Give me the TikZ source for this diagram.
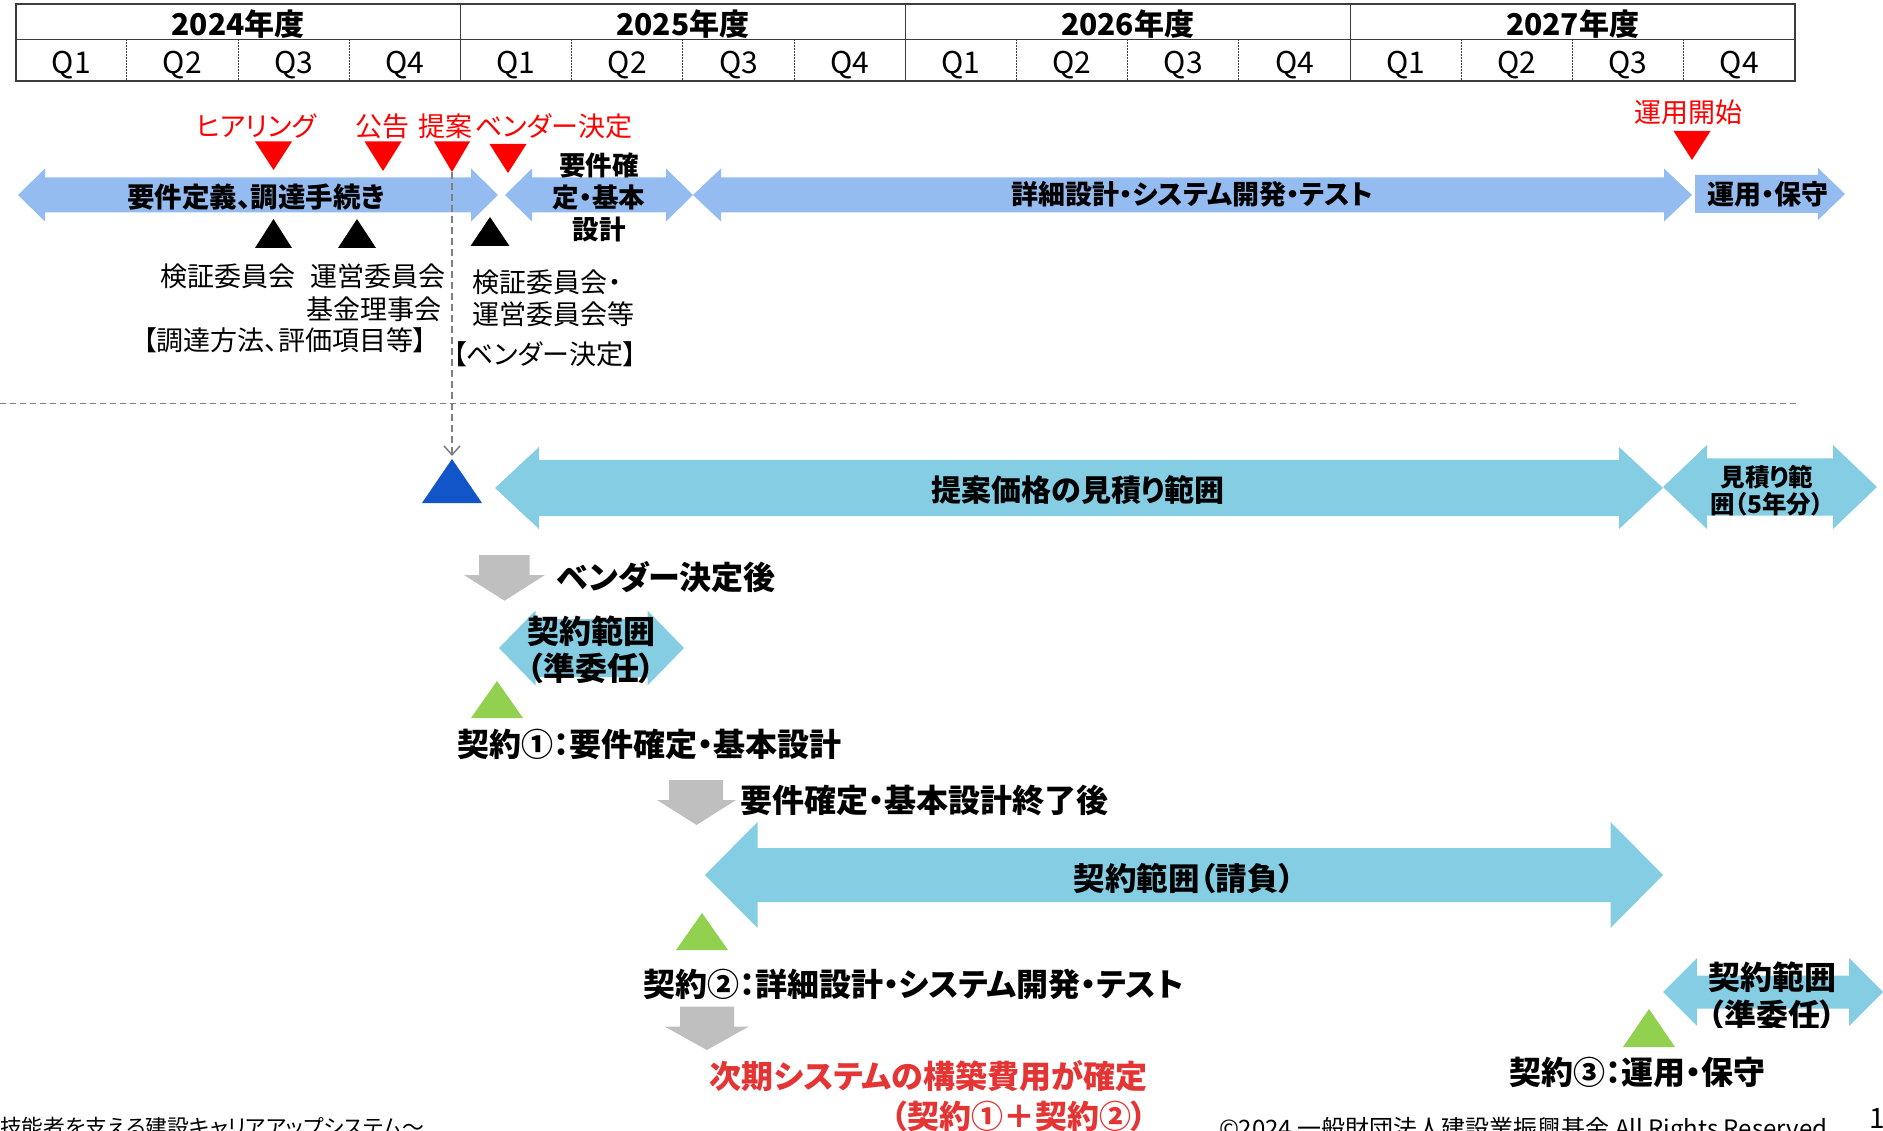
\documentclass[tikz,border=0pt]{standalone}
\usepackage{fontspec}
\setmainfont{Noto Sans CJK JP}[RawFeature=+palt]
\usetikzlibrary{arrows.meta}
\definecolor{rowblue}{RGB}{149,188,240}
\definecolor{skyarr}{RGB}{132,205,227}
\definecolor{grayarr}{RGB}{191,191,191}
\definecolor{greentri}{RGB}{146,208,80}
\definecolor{bluetri}{RGB}{17,85,200}
\definecolor{redmark}{RGB}{255,0,0}
\definecolor{redtext}{RGB}{229,52,52}
\definecolor{tabgray}{RGB}{60,60,60}
\definecolor{dashgray}{RGB}{128,128,128}
\newcommand\mkdarrow[7]{\fill[#1] (#2,#4) -- ({#2+#7},{#4-#6}) -- ({#2+#7},{#4-#5}) -- ({#3-#7},{#4-#5}) -- ({#3-#7},{#4-#6}) -- (#3,#4) -- ({#3-#7},{#4+#6}) -- ({#3-#7},{#4+#5}) -- ({#2+#7},{#4+#5}) -- ({#2+#7},{#4+#6}) -- cycle;}
\newcommand\mkdown[8]{\fill[grayarr] (#1,#3) -- (#2,#3) -- (#2,#6) -- (#5,#6) -- (#7,#8) -- (#4,#6) -- (#1,#6) -- cycle;}
\newcommand\mktri[5]{\fill[#1] ({#2-#4/2},#3) -- ({#2+#4/2},#3) -- (#2,#5) -- cycle;}
\begin{document}
\begin{tikzpicture}[x=1pt,y=-1pt,
  txt/.style={inner sep=0pt,outer sep=0pt},
  redlbl/.style={txt,text=redmark,font=\fontsize{27}{32}\selectfont},
  blklbl/.style={txt,font=\fontsize{27}{32}\selectfont},
  bld/.style={txt,font=\fontsize{#1}{#1}\bfseries\selectfont},
  tabline/.style={draw=tabgray,line width=2pt},
  yrline/.style={draw=tabgray,line width=1.5pt},
  qline/.style={draw=tabgray,line width=0.8pt,dash pattern=on 1.5pt off 1.5pt},
  dashline/.style={draw=dashgray,line width=2pt,dash pattern=on 7pt off 4pt},
  hdash/.style={draw=dashgray,line width=1.5pt,dash pattern=on 6pt off 4pt}]
\useasboundingbox (0,0) rectangle (1883,1131);
\fill[white] (0,0) rectangle (1883,1131);

% ---------- table ----------
\draw[tabline] (15.6,4) rectangle (1795,81);
\draw[yrline] (15.6,39.3) -- (1795,39.3);
\foreach \x in {460.4,905.3,1350.7} \draw[yrline] (\x,4) -- (\x,81);
\foreach \k in {1,2,3,5,6,7,9,10,11,13,14,15} \draw[qline] ({15.6+111.2*\k},39.3) -- ({15.6+111.2*\k},81);
\foreach \yr [count=\i from 0] in {2024,2025,2026,2027}{
  \node[bld=30] (yr\yr) at ({238.0+444.85*\i},24) {\yr 年度};
  \foreach \q in {1,2,3,4}
    \node[txt,anchor=base,font=\fontsize{30}{30}\selectfont] (q\yr\q) at ({15.6+444.85*\i+111.2*(\q-0.5)},73.5) {Q\q};
}

% ---------- row 1 arrows ----------
\mkdarrow{rowblue}{18}{498}{195}{17.5}{26.5}{27}
\mkdarrow{rowblue}{505}{693}{195}{17.5}{26.5}{27}
\mkdarrow{rowblue}{693}{1692}{195}{17.5}{26.5}{28}
\fill[rowblue] (1695,175) -- (1818,175) -- (1818,168) -- (1845,194) -- (1818,220) -- (1818,213) -- (1695,213) -- cycle;

\node[bld=27.5] (reqproc) at (256,197) {要件定義、調達手続き};
\node[bld=26,align=center,font=\fontsize{26.5}{32}\bfseries\selectfont] (reqbasic) at (599,197.5) {要件確\\定・基本\\設計};
\node[bld=27] (detail) at (1192,194.5) {詳細設計・システム開発・テスト};
\node[bld=27] (opsmain) at (1768,194) {運用・保守};

% ---------- red markers ----------
\node[redlbl] (hear) at (256,126) {ヒアリング};
\node[redlbl] (koukoku) at (382,126) {公告};
\node[redlbl] (teian) at (445,126) {提案};
\node[redlbl] (vendor) at (554,126) {ベンダー決定};
\node[redlbl] (opstart) at (1688,112) {運用開始};
\mktri{redmark}{273.5}{141.5}{37}{170}
\mktri{redmark}{383}{141.5}{37}{171}
\mktri{redmark}{452}{141.5}{36}{172}
\mktri{redmark}{508}{144}{37}{173}
\mktri{redmark}{1692}{131}{37}{160}

% ---------- black markers ----------
\mktri{black}{273.5}{248}{37}{219}
\mktri{black}{357}{248}{38}{219}
\mktri{black}{490}{246}{39}{217}
\node[blklbl] (kensho) at (228,276) {検証委員会};
\node[blklbl] (unei) at (378,276) {運営委員会};
\node[blklbl] (kikin) at (374,309) {基金理事会};
\node[blklbl] (chotatsu) at (285,340) {【調達方法、評価項目等】};
\node[blklbl] (kensho2) at (547,282) {検証委員会・};
\node[blklbl] (unei2) at (553,314) {運営委員会等};
\node[blklbl] (vendor2) at (545,354) {【ベンダー決定】};

% ---------- dashed lines ----------
\coordinate (teiantip) at (452,172);
\coordinate (blueapex) at (452,456);
\draw[dashline,-{Straight Barb[length=9pt,width=16pt,line width=1.5pt]}] (teiantip) -- (blueapex);
\coordinate (hdl) at (0,403.5);
\coordinate (hdr) at (1798,403.5);
\draw[hdash] (hdl) -- (hdr);

% ---------- row 2 ----------
\mktri{bluetri}{452}{503}{60}{459}
\mkdarrow{skyarr}{495}{1663}{488}{28}{41}{44}
\mkdarrow{skyarr}{1663}{1877}{487}{28.5}{42}{44}
\node[bld=30] (estimate) at (1078,490) {提案価格の見積り範囲};
\node[bld=24,align=center,font=\fontsize{24.5}{27}\bfseries\selectfont] (est5) at (1767,490.5) {見積り範\\囲（5年分）};

% ---------- contract 1 ----------
\mkdown{479}{529.5}{555}{464}{545}{575}{504.5}{600.7}
\node[bld=32,anchor=west] (aftervendor) at (557,577) {ベンダー決定後};
\mkdarrow{skyarr}{499}{684}{648}{29}{37.5}{36.5}
\begin{scope}
\clip (499,611) rectangle (684,686);
\node[bld=32,align=center,font=\fontsize{32}{37}\bfseries\selectfont] (range1) at (591,650) {契約範囲\\（準委任）};
\end{scope}
\mktri{greentri}{497}{718}{52}{681}
\node[bld=32,anchor=west] (c1) at (457,744) {契約①：要件確定・基本設計};

% ---------- contract 2 ----------
\mkdown{669}{723}{780}{657}{736}{800}{696.5}{825}
\node[bld=32,anchor=west] (afterbasic) at (740,800) {要件確定・基本設計終了後};
\mkdarrow{skyarr}{705}{1663}{875}{27}{53}{52.5}
\node[bld=31.5] (range2) at (1184,878) {契約範囲（請負）};
\mktri{greentri}{702}{950}{52}{913}
\node[bld=32,anchor=west] (c2) at (643,984) {契約②：詳細設計・システム開発・テスト};
\mkdown{680}{734}{1006.7}{665}{748.6}{1026.7}{706.8}{1050}
\node[bld=32,anchor=east,text=redtext] (fixed1) at (1147,1076) {次期システムの構築費用が確定};
\node[bld=32,anchor=east,text=redtext] (fixed2) at (1147,1116) {（契約①＋契約②）};

% ---------- contract 3 ----------
\mkdarrow{skyarr}{1663}{1883}{992}{16.5}{34}{34}
\begin{scope}
\clip (1663,958) rectangle (1883,1027);
\node[bld=32,align=center,font=\fontsize{32}{38}\bfseries\selectfont] (range3) at (1772,996) {契約範囲\\（準委任）};
\end{scope}
\mktri{greentri}{1649}{1047}{52}{1009}
\node[bld=32,anchor=west] (c3) at (1509,1072) {契約③：運用・保守};

% ---------- footer ----------
\node[txt,anchor=north west,font=\fontsize{21.8}{22}\selectfont] (foot1) at (0,1117) {技能者を支える建設キャリアアップシステム〜};
\node[txt,anchor=north west,font=\fontsize{24}{24}\selectfont] (foot2) at (1219,1117) {©2024 一般財団法人建設業振興基金 All Rights Reserved};
\node[txt,anchor=north west,font=\fontsize{28}{28}\selectfont] (pageno) at (1869,1109) {1};
\end{tikzpicture}
\end{document}
